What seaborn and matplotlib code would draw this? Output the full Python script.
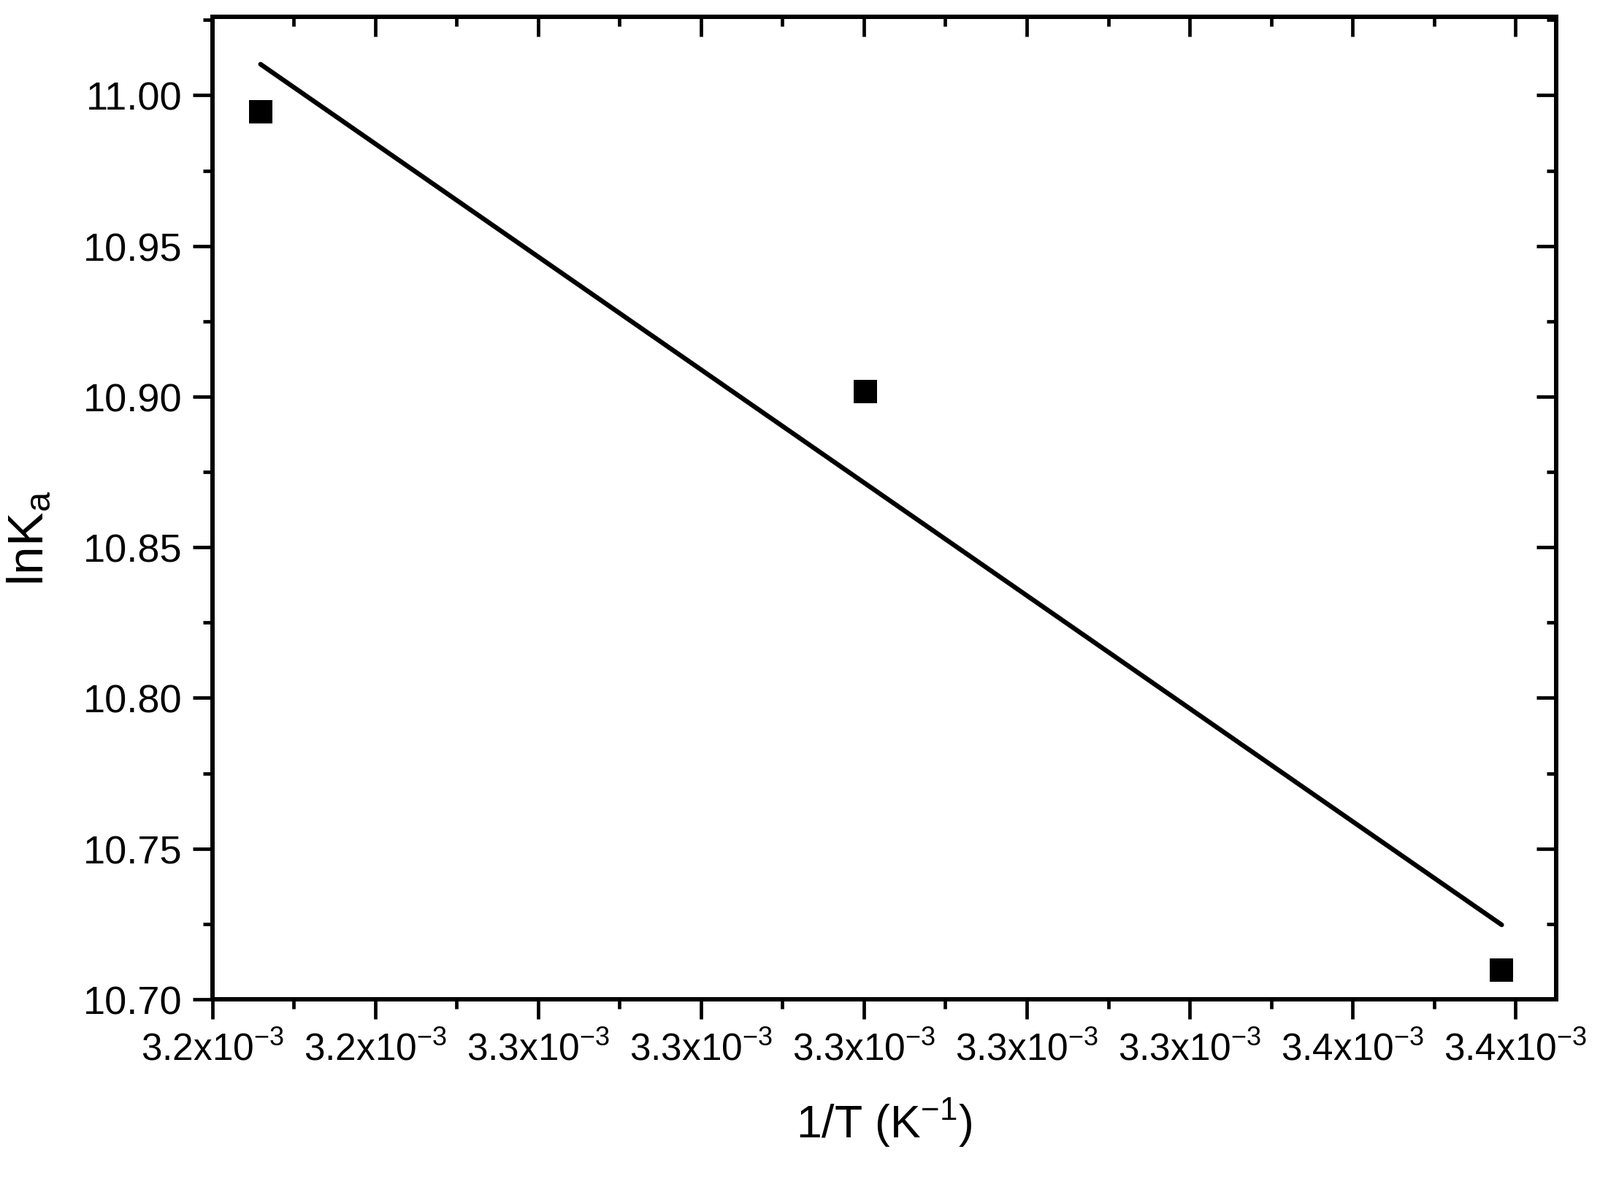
import numpy as np
import pandas as pd
import matplotlib
matplotlib.use("Agg")
import matplotlib.pyplot as plt
from matplotlib.ticker import FixedLocator, MultipleLocator
import seaborn as sns

# data
inv_T = [3.2074e-3, 3.3002e-3, 3.3979e-3]
ln_Ka = [10.9946, 10.9018, 10.7098]

x_ticks = [3.2e-3, 3.225e-3, 3.25e-3, 3.275e-3, 3.3e-3, 3.325e-3, 3.35e-3, 3.375e-3, 3.4e-3]
x_tick_text = ["3.2", "3.2", "3.3", "3.3", "3.3", "3.3", "3.3", "3.4", "3.4"]
y_ticks = [10.70, 10.75, 10.80, 10.85, 10.90, 10.95, 11.00]

sns.set_theme(style="ticks")
plt.rcParams['font.family'] = ['Liberation Sans', 'DejaVu Sans']
plt.rcParams['mathtext.fontset'] = 'custom'
plt.rcParams['mathtext.rm'] = 'Liberation Sans'
plt.rcParams['mathtext.it'] = 'Liberation Sans:italic'
plt.rcParams['mathtext.default'] = 'regular'
for k in ['text.color', 'axes.labelcolor', 'xtick.color', 'ytick.color', 'axes.edgecolor']:
    plt.rcParams[k] = 'black'

df = pd.DataFrame({"inv_T": inv_T, "ln_Ka": ln_Ka})

fig = plt.figure(figsize=(21.91, 16.15), dpi=100)
ax = fig.add_axes([0.1327, 0.1523, 0.9726 - 0.1327, 0.9853 - 0.1523])

# linear fit through the points, drawn over the data range
sns.regplot(data=df, x="inv_T", y="ln_Ka", ax=ax, ci=None, marker="s",
            scatter_kws={"s": 560, "color": "black", "alpha": 1, "linewidths": 0, "zorder": 3},
            line_kws={"color": "black", "lw": 4.6, "solid_capstyle": "round"})

ax.set_xlim(3.2e-3, 3.40626e-3)
ax.set_ylim(10.70, 11.0261)

ax.xaxis.set_major_locator(FixedLocator(x_ticks))
ax.set_xticklabels([f"{t}x10$^{{-3}}$" for t in x_tick_text])
ax.xaxis.set_minor_locator(MultipleLocator(0.0125e-3))
ax.set_yticks(y_ticks)
ax.set_yticklabels([f"{v:.2f}" for v in y_ticks])
ax.yaxis.set_minor_locator(MultipleLocator(0.025))

ax.tick_params(which="major", direction="out", length=19.5, width=3.4, labelsize=39, pad=10)
ax.tick_params(which="minor", direction="out", length=9.7, width=3.4)
ax.tick_params(axis="x", which="major", labelsize=37, pad=12)
for s in ax.spines.values():
    s.set_linewidth(4.3)
    s.set_color("black")

# top and right ticks point inward
top = ax.secondary_xaxis("top")
top.xaxis.set_major_locator(FixedLocator(x_ticks))
top.xaxis.set_minor_locator(MultipleLocator(0.0125e-3))
top.tick_params(which="major", direction="in", length=19.5, width=3.4, labeltop=False)
top.tick_params(which="minor", direction="in", length=9.7, width=3.4)
top.spines["top"].set_linewidth(4.3)

right = ax.secondary_yaxis("right")
right.set_yticks(y_ticks)
right.yaxis.set_minor_locator(MultipleLocator(0.025))
right.tick_params(which="major", direction="in", length=19.5, width=3.4, labelright=False)
right.tick_params(which="minor", direction="in", length=9.7, width=3.4)
right.spines["right"].set_linewidth(4.3)

ax.set_xlabel("1/T (K$^{-1}$)", fontsize=45, labelpad=28)
ax.set_ylabel("lnK$_{a}$", fontsize=50)
ax.yaxis.set_label_coords(-0.118, 0.47)

fig.savefig("out.png", dpi=100, facecolor="white")
